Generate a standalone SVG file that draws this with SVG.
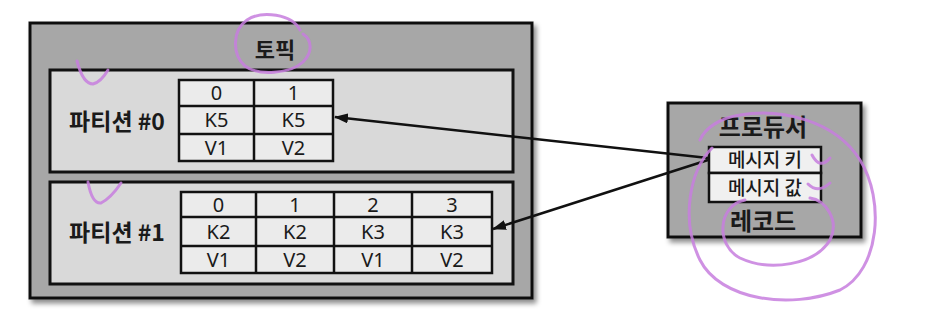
<svg xmlns="http://www.w3.org/2000/svg" width="952" height="332" viewBox="0 0 952 332">
<defs>
<style>
.box{stroke:#111;stroke-width:3}
.dark{fill:#a7a7a7}
.light{fill:#d9d9d9}
.cell{fill:#ebebeb;stroke:#111;stroke-width:2.5}
.grid{stroke:#111;stroke-width:2.5;fill:none}
.title{font-family:"Noto Sans CJK KR","Noto Sans",sans-serif;font-weight:bold;font-size:22px;fill:#1a1a1a;text-anchor:middle}
.big{font-size:24px}
.pl{font-size:23px}
.ct{font-family:"Noto Sans","Noto Sans CJK KR",sans-serif;font-size:20px;fill:#1a1a1a;text-anchor:middle}
.msg{font-family:"Noto Sans CJK KR",sans-serif;font-size:19px;font-weight:500;fill:#1a1a1a;text-anchor:middle}
.conn{stroke:#111;stroke-width:2.5;fill:none}
.ann{stroke:#c77ede;stroke-width:3;fill:none;stroke-linecap:round;opacity:0.85}
</style>
<filter id="sh" x="-10%" y="-10%" width="120%" height="130%">
<feDropShadow dx="3" dy="4" stdDeviation="2.5" flood-color="#000" flood-opacity="0.45"/>
</filter>
<marker id="ah" viewBox="0 0 14 10" refX="13" refY="5" markerWidth="14" markerHeight="10" markerUnits="userSpaceOnUse" orient="auto">
<path d="M0,0 L14,5 L0,10 Z" fill="#111"/>
</marker>
</defs>
<rect width="952" height="332" fill="#ffffff"/>

<g id="topic">
<rect class="box dark" x="30" y="23" width="502" height="275" filter="url(#sh)"/>
<text class="title" x="275" y="58">토픽</text>
</g>

<g id="partition0">
<rect class="box light" x="50" y="70" width="463" height="102"/>
<text class="title pl" x="117" y="130">파티션 #0</text>
<rect class="cell" x="179" y="80" width="154" height="81"/>
<path class="grid" d="M254,80 V161 M179,106 H333 M179,134 H333"/>
<text class="ct" x="216.5" y="100">0</text>
<text class="ct" x="293.5" y="100">1</text>
<text class="ct" x="216.5" y="127">K5</text>
<text class="ct" x="293.5" y="127">K5</text>
<text class="ct" x="216.5" y="155">V1</text>
<text class="ct" x="293.5" y="155">V2</text>
</g>

<g id="partition1">
<rect class="box light" x="50" y="182" width="463" height="102"/>
<text class="title pl" x="117" y="241">파티션 #1</text>
<rect class="cell" x="181" y="192" width="311" height="81"/>
<path class="grid" d="M256,192 V273 M334,192 V273 M412,192 V273 M181,217 H492 M181,246 H492"/>
<text class="ct" x="218.5" y="211.5">0</text>
<text class="ct" x="295" y="211.5">1</text>
<text class="ct" x="373" y="211.5">2</text>
<text class="ct" x="452" y="211.5">3</text>
<text class="ct" x="218.5" y="238.5">K2</text>
<text class="ct" x="295" y="238.5">K2</text>
<text class="ct" x="373" y="238.5">K3</text>
<text class="ct" x="452" y="238.5">K3</text>
<text class="ct" x="218.5" y="267">V1</text>
<text class="ct" x="295" y="267">V2</text>
<text class="ct" x="373" y="267">V1</text>
<text class="ct" x="452" y="267">V2</text>
</g>

<g id="producer">
<rect class="box dark" x="668" y="103" width="193" height="134" filter="url(#sh)"/>
<text class="title big" x="763" y="136">프로듀서</text>
<rect class="cell" x="709" y="147" width="112" height="26" style="fill:#f0f0f0"/>
<text class="msg" x="765" y="167">메시지 키</text>
<rect class="cell" x="709" y="173" width="112" height="29" style="fill:#f0f0f0"/>
<text class="msg" x="765" y="194.5">메시지 값</text>
<text class="title big" x="763" y="230">레코드</text>
</g>

<g id="connectors">
<path class="conn" d="M708,158 L335,117" marker-end="url(#ah)"/>
<path class="conn" d="M708,160 L493,229" marker-end="url(#ah)"/>
</g>

<g id="annotations">
<path class="ann" d="M300,30 C292,14 262,10 247,20 C232,30 232,55 245,66 C258,76 290,74 303,62 C313,52 312,40 303,34"/>
<path class="ann" d="M77,61 Q83,84 93,84 Q101,82 108,70"/>
<path class="ann" d="M88,182 Q92,204 101,203 Q111,198 121,183"/>
<path class="ann" d="M712,148 C690,170 680,220 700,260 C720,300 790,310 840,290 C880,270 885,200 860,160 C835,120 780,108 740,115 C720,118 705,128 700,140"/>
<path class="ann" d="M745,200 C718,205 715,245 740,258 C770,272 815,265 830,240 C840,220 825,200 810,198"/>
<path class="ann" d="M812,155 Q820,170 830,158 M808,184 Q818,194 830,183"/>
</g>
</svg>
